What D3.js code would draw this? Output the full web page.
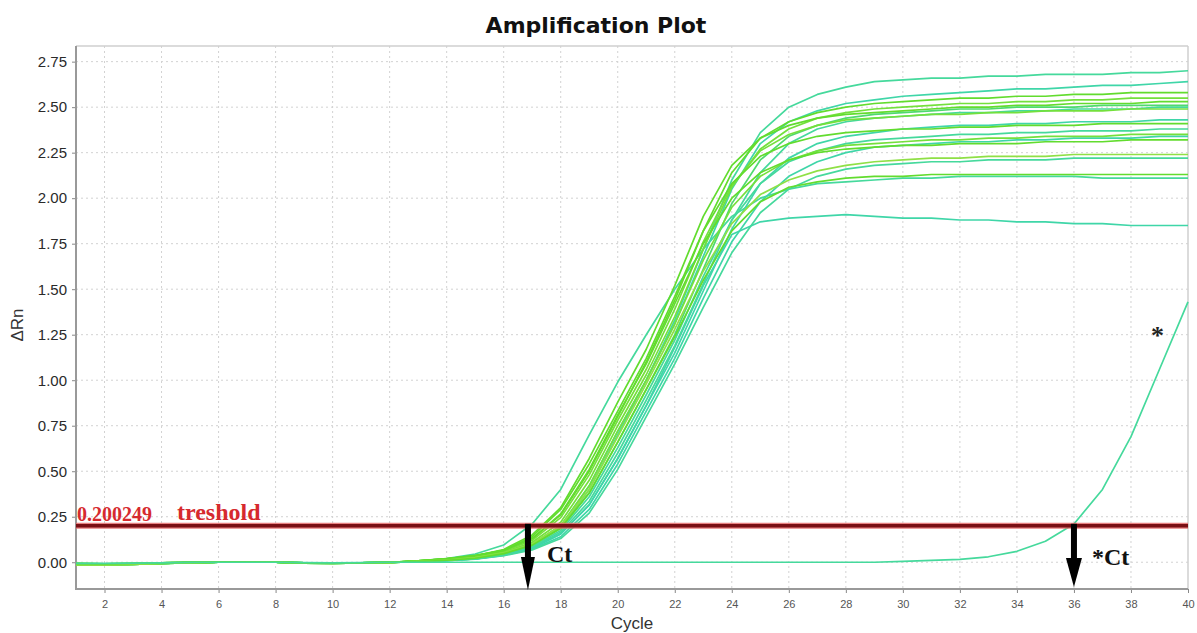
<!DOCTYPE html>
<html><head><meta charset="utf-8">
<script src="https://cdn.jsdelivr.net/npm/d3@7"></script>
<style>body{margin:0;background:#fff}svg{display:block}</style>
</head><body><svg id="c" width="1197" height="633"></svg>
<script>
// ---- data ----
const cycles=[1,2,3,4,5,6,7,8,9,10,11,12,13,14,15,16,17,18,19,20,21,22,23,24,25,26,27,28,29,30,31,32,33,34,35,36,37,38,39,40];
const xTicks=[2,4,6,8,10,12,14,16,18,20,22,24,26,28,30,32,34,36,38,40];
const yTicks=[0,0.25,0.5,0.75,1,1.25,1.5,1.75,2,2.25,2.5,2.75];
const threshold=0.200249;
const ctMain=16.85, ctLate=36;
const well01=[-0.008,-0.009,-0.007,-0.004,-0.001,0.001,0.001,0,-0.003,-0.004,-0.003,0,.005,.012,.025,.05,.1,.19,.4,.7,1.0,1.33,1.72,2.1,2.36,2.5,2.57,2.61,2.64,2.65,2.66,2.66,2.67,2.67,2.68,2.68,2.68,2.69,2.69,2.70];
const well02=[-0.012,-0.012,-0.01,-0.006,-0.002,0,0,0,-0.004,-0.005,-0.004,-0.001,.006,.014,.028,.052,.1,.2,.42,.72,1.0,1.31,1.68,2.05,2.3,2.42,2.48,2.52,2.54,2.56,2.57,2.58,2.59,2.6,2.6,2.61,2.62,2.62,2.63,2.64];
const well03=[-0.015,-0.014,-0.012,-0.007,-0.003,0,0.001,0,-0.005,-0.006,-0.004,-0.002,.007,.018,.035,.065,.13,.26,.5,.8,1.1,1.44,1.82,2.14,2.33,2.42,2.47,2.5,2.52,2.53,2.54,2.55,2.55,2.56,2.56,2.57,2.57,2.58,2.58,2.58];
const well04=[-0.012,-0.012,-0.01,-0.006,-0.002,0,0,0,-0.004,-0.005,-0.004,-0.001,.005,.015,.03,.055,.11,.22,.45,.75,1.03,1.35,1.72,2.06,2.27,2.38,2.44,2.47,2.49,2.5,2.51,2.52,2.52,2.53,2.53,2.54,2.54,2.55,2.55,2.55];
const well05=[-0.008,-0.009,-0.007,-0.004,-0.001,0.001,0.001,0,-0.003,-0.004,-0.003,0,.008,.02,.035,.07,.15,.3,.57,.88,1.17,1.52,1.9,2.18,2.33,2.4,2.44,2.46,2.47,2.48,2.49,2.5,2.5,2.51,2.51,2.52,2.52,2.52,2.53,2.53];
const well06=[-0.015,-0.014,-0.012,-0.007,-0.003,0,0.001,0,-0.005,-0.006,-0.004,-0.002,.004,.011,.022,.047,.094,.187,.38,.66,.95,1.25,1.61,1.97,2.21,2.34,2.4,2.44,2.46,2.47,2.48,2.49,2.49,2.5,2.5,2.5,2.51,2.51,2.51,2.51];
const well07=[-0.012,-0.012,-0.01,-0.006,-0.002,0,0,0,-0.004,-0.005,-0.004,-0.001,.004,.01,.02,.042,.083,.165,.335,.6,.89,1.19,1.53,1.88,2.14,2.3,2.38,2.42,2.44,2.45,2.46,2.47,2.47,2.48,2.48,2.49,2.49,2.49,2.5,2.5];
const well08=[-0.008,-0.009,-0.007,-0.004,-0.001,0.001,0.001,0,-0.003,-0.004,-0.003,0,.006,.016,.033,.06,.12,.245,.48,.78,1.06,1.39,1.76,2.07,2.26,2.35,2.4,2.43,2.44,2.45,2.46,2.46,2.47,2.47,2.48,2.48,2.48,2.49,2.49,2.49];
const well09=[-0.015,-0.014,-0.012,-0.007,-0.003,0,0.001,0,-0.005,-0.006,-0.004,-0.002,.004,.01,.019,.04,.077,.155,.315,.57,.86,1.15,1.49,1.83,2.08,2.22,2.3,2.34,2.36,2.38,2.39,2.4,2.4,2.41,2.41,2.42,2.42,2.42,2.43,2.43];
const well10=[-0.012,-0.012,-0.01,-0.006,-0.002,0,0,0,-0.004,-0.005,-0.004,-0.001,.007,.019,.038,.065,.14,.29,.54,.83,1.12,1.46,1.82,2.08,2.23,2.3,2.34,2.36,2.37,2.38,2.38,2.39,2.39,2.4,2.4,2.4,2.41,2.41,2.41,2.41];
const well11=[-0.008,-0.009,-0.007,-0.004,-0.001,0.001,0.001,0,-0.003,-0.004,-0.003,0,.004,.011,.021,.045,.088,.175,.36,.63,.92,1.22,1.57,1.88,2.08,2.2,2.26,2.3,2.32,2.33,2.34,2.35,2.35,2.36,2.36,2.37,2.37,2.37,2.38,2.38];
const well12=[-0.015,-0.014,-0.012,-0.007,-0.003,0,0.001,0,-0.005,-0.006,-0.004,-0.002,.005,.013,.028,.05,.1,.2,.42,.72,1.0,1.31,1.66,1.95,2.12,2.21,2.26,2.29,2.3,2.31,2.32,2.32,2.33,2.33,2.34,2.34,2.34,2.35,2.35,2.35];
const well13=[-0.012,-0.012,-0.01,-0.006,-0.002,0,0,0,-0.004,-0.005,-0.004,-0.001,.003,.009,.018,.038,.072,.14,.29,.54,.83,1.12,1.45,1.76,1.98,2.12,2.2,2.25,2.28,2.29,2.3,2.31,2.31,2.32,2.32,2.33,2.33,2.33,2.34,2.34];
const well14=[-0.008,-0.009,-0.007,-0.004,-0.001,0.001,0.001,0,-0.003,-0.004,-0.003,0,.007,.018,.035,.065,.13,.265,.51,.81,1.09,1.42,1.75,2.0,2.14,2.21,2.25,2.27,2.28,2.29,2.29,2.3,2.3,2.3,2.31,2.31,2.31,2.32,2.32,2.32];
const well15=[-0.015,-0.014,-0.012,-0.007,-0.003,0,0.001,0,-0.005,-0.006,-0.004,-0.002,.005,.012,.025,.05,.1,.2,.4,.69,.98,1.28,1.6,1.86,2.02,2.1,2.15,2.18,2.2,2.21,2.22,2.22,2.23,2.23,2.23,2.24,2.24,2.24,2.24,2.24];
const well16=[-0.012,-0.012,-0.01,-0.006,-0.002,0,0,0,-0.004,-0.005,-0.004,-0.001,.003,.009,.017,.036,.068,.13,.27,.51,.8,1.09,1.4,1.7,1.92,2.05,2.12,2.16,2.18,2.19,2.2,2.2,2.21,2.21,2.21,2.22,2.22,2.22,2.22,2.22];
const well17=[-0.008,-0.009,-0.007,-0.004,-0.001,0.001,0.001,0,-0.003,-0.004,-0.003,0,.004,.011,.022,.047,.094,.187,.38,.66,.95,1.24,1.55,1.82,1.98,2.06,2.09,2.11,2.12,2.12,2.13,2.13,2.13,2.13,2.13,2.13,2.13,2.13,2.13,2.13];
const well18=[-0.015,-0.014,-0.012,-0.007,-0.003,0,0.001,0,-0.005,-0.006,-0.004,-0.002,.008,.02,.045,.095,.21,.4,.7,.99,1.25,1.5,1.72,1.9,2.0,2.05,2.08,2.09,2.1,2.11,2.11,2.12,2.12,2.12,2.12,2.12,2.11,2.11,2.11,2.11];
const well19=[-0.012,-0.012,-0.01,-0.006,-0.002,0,0,0,-0.004,-0.005,-0.004,-0.001,.004,.01,.019,.04,.077,.155,.315,.57,.86,1.18,1.52,1.8,1.87,1.89,1.9,1.91,1.9,1.89,1.89,1.88,1.88,1.87,1.87,1.86,1.86,1.85,1.85,1.85];
const wellLate=[-0.006,-0.006,-0.005,-0.003,-0.001,0,0,0,-0.002,-0.003,-0.002,0,0,0,0,0,0,0,0,0,0,0,0,0,0,0,0,0,0,.005,.01,.016,.03,.06,.115,.21,.4,.69,1.06,1.43];

const TEAL="#45d99c", TEAL2="#3fd6a8", GREEN="#62dc2e", GREEN2="#74e03c", YGREEN="#8fe046", MID="#4fda6e";
const series=[
  {v:well18,c:TEAL},{v:well19,c:TEAL2},{v:well01,c:TEAL},{v:well02,c:TEAL2},
  {v:well07,c:TEAL},{v:well09,c:TEAL2},{v:well11,c:TEAL},{v:well13,c:TEAL2},{v:well16,c:TEAL},
  {v:well03,c:GREEN},{v:well04,c:GREEN2},{v:well05,c:GREEN},{v:well06,c:MID},{v:well08,c:GREEN2},
  {v:well10,c:GREEN},{v:well12,c:GREEN2},{v:well14,c:GREEN},{v:well15,c:YGREEN},{v:well17,c:GREEN},
  {v:wellLate,c:TEAL}
];

// ---- drawing ----
const svg=d3.select("#c");
const L=76,R=1188,T=46,B=589;
const x=d3.scaleLinear().domain([1,40]).range([L,R]);
const y=d3.scaleLinear().domain([-0.147,2.836]).range([B,T]);

const grid=svg.append("g").attr("stroke","#d2d2d2").attr("stroke-width",1).attr("stroke-dasharray","2,3");
grid.selectAll("line.v").data(xTicks.filter(d=>d<40)).join("line")
  .attr("x1",d=>x(d)).attr("x2",d=>x(d)).attr("y1",T).attr("y2",B);
grid.selectAll("line.h").data(yTicks).join("line").attr("class","h")
  .attr("x1",L).attr("x2",R).attr("y1",d=>y(d)).attr("y2",d=>y(d));

// frame
svg.append("line").attr("x1",L).attr("x2",R).attr("y1",T).attr("y2",T).attr("stroke","#cfcfcf").attr("stroke-width",1.5);
svg.append("line").attr("x1",R).attr("x2",R).attr("y1",T).attr("y2",B).attr("stroke","#cfcfcf").attr("stroke-width",1.5);

// axes
const ya=svg.append("g").attr("transform",`translate(${L},0)`)
  .call(d3.axisLeft(y).tickValues(yTicks).tickFormat(d3.format(".2f")).tickSize(4).tickPadding(5));
ya.select(".domain").remove();
ya.selectAll("line").attr("stroke","#888");
ya.selectAll("text").attr("font-family","'Liberation Sans',Arial,sans-serif").attr("font-size",15).attr("fill","#2a2a2a");

const xa=svg.append("g").attr("transform",`translate(0,${B})`)
  .call(d3.axisBottom(x).tickValues(xTicks).tickFormat(d3.format("d")).tickSize(4).tickPadding(7));
xa.select(".domain").remove();
xa.selectAll("line").attr("stroke","#888");
xa.selectAll("text").attr("font-family","'Liberation Sans',Arial,sans-serif").attr("font-size",11).attr("fill","#555");

svg.append("line").attr("x1",L).attr("x2",L).attr("y1",T).attr("y2",B+1).attr("stroke","#999").attr("stroke-width",2);
svg.append("line").attr("x1",L-1).attr("x2",R).attr("y1",B).attr("y2",B).attr("stroke","#999").attr("stroke-width",2);

// curves
const line=d3.line().x((d,i)=>x(cycles[i])).y(d=>y(d));
svg.append("g").selectAll("path").data(series).join("path")
  .attr("d",d=>line(d.v)).attr("fill","none").attr("stroke",d=>d.c).attr("stroke-width",1.7).attr("stroke-linejoin","round");

// threshold
const ty=y(threshold);
svg.append("line").attr("x1",L).attr("x2",R).attr("y1",ty).attr("y2",ty).attr("stroke","#e36a6a").attr("stroke-width",6).attr("opacity",0.85);
svg.append("line").attr("x1",L).attr("x2",R).attr("y1",ty).attr("y2",ty).attr("stroke","#7a0f14").attr("stroke-width",3.5);

// arrows
function arrow(ct,headTop,tip,hw){
  const cx=x(ct);
  svg.append("rect").attr("x",cx-3).attr("y",ty-2).attr("width",6).attr("height",headTop-ty+4).attr("fill","#000");
  svg.append("path").attr("d",`M${cx-hw},${headTop}L${cx+hw},${headTop}L${cx},${tip}Z`).attr("fill","#000");
}
arrow(ctMain,557,590,7);
arrow(ctLate,558,587,8);

// texts
const serif="'Liberation Serif','Times New Roman',serif";
svg.append("text").attr("x",77).attr("y",521).attr("font-family",serif).attr("font-weight","bold").attr("font-size",20).attr("fill","#d62a2e").text("0.200249");
svg.append("text").attr("x",177).attr("y",520).attr("font-family",serif).attr("font-weight","bold").attr("font-size",24).attr("fill","#d62a2e").text("treshold");
svg.append("text").attr("x",547).attr("y",562).attr("font-family",serif).attr("font-weight","bold").attr("font-size",24).attr("fill","#111").text("Ct");
svg.append("text").attr("x",1092).attr("y",565).attr("font-family",serif).attr("font-weight","bold").attr("font-size",24).attr("fill","#111").text("*Ct");
svg.append("text").attr("x",1151).attr("y",344).attr("font-family",serif).attr("font-weight","bold").attr("font-size",26).attr("fill","#222").text("*");

svg.append("text").attr("x",596).attr("y",33).attr("text-anchor","middle").attr("font-family","'DejaVu Sans',Verdana,sans-serif").attr("font-weight","bold").attr("font-size",22).attr("fill","#111").text("Amplification Plot");
svg.append("text").attr("x",(L+R)/2).attr("y",629).attr("text-anchor","middle").attr("font-family","'Liberation Sans',Arial,sans-serif").attr("font-size",17).attr("fill","#333").text("Cycle");
svg.append("text").attr("transform","translate(23,325) rotate(-90)").attr("text-anchor","middle").attr("font-family","'Liberation Sans',Arial,sans-serif").attr("font-size",17).attr("fill","#333").text("ΔRn");
</script></body></html>
